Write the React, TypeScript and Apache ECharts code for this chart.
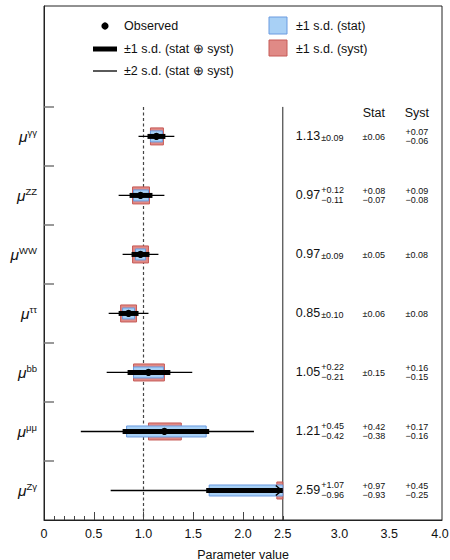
import React, { useEffect, useRef } from "react";
import * as echarts from "echarts";

// ---- data ----
const channels = ["γγ", "ZZ", "WW", "ττ", "bb", "μμ", "Zγ"];
const observed = [1.13, 0.97, 0.97, 0.85, 1.05, 1.21, 2.59];
const totUp = [0.09, 0.12, 0.09, 0.1, 0.22, 0.45, 1.07];
const totDn = [0.09, 0.11, 0.09, 0.1, 0.21, 0.42, 0.96];
const statUp = [0.06, 0.08, 0.05, 0.06, 0.15, 0.42, 0.97];
const statDn = [0.06, 0.07, 0.05, 0.06, 0.15, 0.38, 0.93];
const systUp = [0.07, 0.09, 0.08, 0.08, 0.16, 0.17, 0.45];
const systDn = [0.06, 0.08, 0.08, 0.08, 0.15, 0.16, 0.25];
const tot2Up = [0.18, 0.24, 0.18, 0.2, 0.44, 0.9, 2.14];
const tot2Dn = [0.18, 0.22, 0.18, 0.2, 0.42, 0.84, 1.92];

const xTickLabels = [0, 0.5, 1, 1.5, 2, 2.5, 3, 3.5, 4];
const xMajorTicks = [0.5, 1, 1.5, 2];
const xMinorTicks = [0.1, 0.2, 0.3, 0.4, 0.6, 0.7, 0.8, 0.9, 1.1, 1.2, 1.3, 1.4, 1.6, 1.7, 1.8, 1.9, 2.1, 2.2, 2.3, 2.4];
const yTicks = [1, 2, 3, 4, 5, 6, 7];
const columnHeaders = ["Stat", "Syst"];
const legendLeft = ["Observed", "±1 s.d. (stat ⊕ syst)", "±2 s.d. (stat ⊕ syst)"];
const legendRight = ["±1 s.d. (stat)", "±1 s.d. (syst)"];
const xName = "Parameter value";

// ---- layout / style ----
const FONT = "'Liberation Sans', Arial, Helvetica, sans-serif";
const DIVIDER = 2.4;
const ROWS = channels.length;
const BLUE = "#a8d0f5";
const BLUE_B = "#6a9be0";
const RED = "#e08a86";
const RED_B = "#c65a56";

function measure(t: string, font: string) {
  const c = document.createElement("canvas").getContext("2d");
  if (!c) return t.length * 7;
  c.font = font;
  return c.measureText(t).width;
}
const f2 = (v: number) => v.toFixed(2);
const errText = (up: number, dn: number) =>
  up === dn ? ["±" + f2(up)] : ["+" + f2(up), "−" + f2(dn)];

export default function App() {
  const ref = useRef<HTMLDivElement>(null);
  useEffect(() => {
    if (!ref.current) return;
    const chart = echarts.init(ref.current, null, { renderer: "svg" });

    const frameItem = (params: any, api: any) => {
      const top = api.coord([1, 7]);
      const bot = api.coord([1, 0]);
      const dTop = api.coord([DIVIDER, 7]);
      const dBot = api.coord([DIVIDER, 0]);
      const hy = api.coord([0, ROWS - 0.5])[1] - 23;
      const head = (t: string, x: number) => ({
        type: "text",
        style: { text: t, x, y: hy, align: "center", verticalAlign: "middle", fontSize: 12.5, fontFamily: FONT, fill: "#111" },
      });
      return {
        type: "group",
        children: [
          {
            type: "line",
            shape: { x1: top[0], y1: top[1], x2: bot[0], y2: bot[1] },
            style: { stroke: "#444", lineWidth: 1.2, lineDash: [3, 2.5] },
          },
          {
            type: "line",
            shape: { x1: dTop[0], y1: dTop[1], x2: dBot[0], y2: dBot[1] },
            style: { stroke: "#222", lineWidth: 1 },
          },
          head(columnHeaders[0], dTop[0] + 91),
          head(columnHeaders[1], dTop[0] + 134),
        ],
      };
    };

    const mainFont = "12.5px " + FONT;
    const rowItem = (params: any, api: any) => {
      const i = api.value(0);
      const yv = ROWS - 0.5 - i;
      const cl = (x: number) => Math.min(Math.max(x, 0), DIVIDER);
      const px = (x: number) => api.coord([cl(x), yv])[0];
      const y = api.coord([0, yv])[1];
      const x0 = api.coord([0, yv])[0];
      const xd = api.coord([DIVIDER, yv])[0];
      const c = observed[i];
      const kids: any[] = [];
      kids.push({
        type: "line",
        shape: { x1: px(c - tot2Dn[i]), y1: y, x2: px(c + tot2Up[i]), y2: y },
        style: { stroke: "#000", lineWidth: 1.3 },
      });
      const sx1 = px(c - systDn[i]);
      const sx2 = px(c + systUp[i]);
      if (sx2 - sx1 > 0.5)
        kids.push({
          type: "rect",
          shape: { x: sx1, y: y - 8.5, width: sx2 - sx1, height: 17 },
          style: { fill: RED, stroke: RED_B, lineWidth: 1 },
        });
      const bx1 = px(c - statDn[i]);
      const bx2 = px(c + statUp[i]);
      if (bx2 - bx1 > 0.5)
        kids.push({
          type: "rect",
          shape: { x: bx1, y: y - 5.5, width: bx2 - bx1, height: 11 },
          style: { fill: BLUE, stroke: BLUE_B, lineWidth: 1 },
        });
      const tx2 = px(c + totUp[i]);
      kids.push({
        type: "line",
        shape: { x1: px(c - totDn[i]), y1: y, x2: tx2, y2: y },
        style: { stroke: "#000", lineWidth: 5 },
      });
      if (c + totUp[i] > DIVIDER) {
        kids.push({
          type: "polyline",
          shape: { points: [[tx2 - 7, y - 5], [tx2 - 1, y], [tx2 - 7, y + 5]] },
          style: { stroke: "#000", lineWidth: 1.5, fill: null },
        });
      }
      if (c <= DIVIDER)
        kids.push({
          type: "circle",
          shape: { cx: px(c), cy: y, r: 3.6 },
          style: { fill: "#000" },
        });
      kids.push({
        type: "text",
        style: {
          text: "{mu|μ}{sup|" + channels[i] + "}",
          x: x0 - 7,
          y: y,
          align: "right",
          verticalAlign: "middle",
          rich: {
            mu: { fontSize: 15.5, fontStyle: "italic", fontFamily: FONT, fill: "#111", lineHeight: 17 },
            sup: { fontSize: 9.5, fontFamily: FONT, fill: "#111", verticalAlign: "top", lineHeight: 10 },
          },
        },
      });
      const vText = f2(c);
      const vx = xd + 13;
      kids.push({
        type: "text",
        style: { text: vText, x: vx, y: y, align: "left", verticalAlign: "middle", fontSize: 12.5, fontFamily: FONT, fill: "#111" },
      });
      const ex = vx + measure(vText, mainFont) + 1;
      const tot = errText(totUp[i], totDn[i]);
      const small = (t: string, x: number, yy: number, align: string) => ({
        type: "text",
        style: { text: t, x, y: yy, align, verticalAlign: "middle", fontSize: 9, fontFamily: FONT, fill: "#111" },
      });
      if (tot.length === 1) kids.push(small(tot[0], ex, y + 1.5, "left"));
      else {
        kids.push(small(tot[0], ex, y - 5.5, "left"));
        kids.push(small(tot[1], ex, y + 4.5, "left"));
      }
      const cols = [
        { x: xd + 91, t: errText(statUp[i], statDn[i]) },
        { x: xd + 134, t: errText(systUp[i], systDn[i]) },
      ];
      cols.forEach((col) => {
        if (col.t.length === 1) kids.push(small(col.t[0], col.x, y + 1, "center"));
        else {
          kids.push(small(col.t[0], col.x, y - 4.5, "center"));
          kids.push(small(col.t[1], col.x, y + 4.5, "center"));
        }
      });
      return { type: "group", children: kids };
    };

    const shiftRich = {
      s25: { padding: [0, 20, 0, 0], fontSize: 12.5, fontFamily: FONT, color: "#111" },
      s3: { padding: [0, 6, 0, 0], fontSize: 12.5, fontFamily: FONT, color: "#111" },
      s4: { padding: [0, 4, 0, 0], fontSize: 12.5, fontFamily: FONT, color: "#111" },
    };

    chart.setOption({
      animation: false,
      textStyle: { fontFamily: FONT },
      grid: {
        left: 44,
        right: 8,
        top: 6,
        bottom: 40,
        show: true,
        borderColor: "#222",
        borderWidth: 1,
        containLabel: false,
        outerBoundsMode: "none",
      },
      xAxis: [
        {
          type: "value",
          min: 0,
          max: 4,
          interval: 0.5,
          splitLine: { show: false },
          axisLine: { lineStyle: { color: "#222", width: 1 } },
          axisTick: { inside: true, length: 8, customValues: xMajorTicks, lineStyle: { color: "#444" } },
          axisLabel: {
            customValues: xTickLabels,
            fontSize: 12.5,
            color: "#111",
            margin: 7,
            fontFamily: FONT,
            showMinLabel: true,
            showMaxLabel: true,
            hideOverlap: false,
            formatter: (v: number) => {
              if (v === 0) return "0";
              if (v === 2.5) return "{s25|2.5}";
              if (v === 3 || v === 3.5) return "{s3|" + v.toFixed(1) + "}";
              if (v === 4) return "{s4|4.0}";
              return v.toFixed(1);
            },
            rich: shiftRich,
          },
          name: xName,
          nameLocation: "middle",
          nameGap: 28,
          nameTextStyle: { fontSize: 12.5, color: "#111", fontFamily: FONT },
        },
        {
          type: "value",
          min: 0,
          max: 4,
          gridIndex: 0,
          position: "bottom",
          splitLine: { show: false },
          axisLine: { show: false },
          axisLabel: { show: false },
          axisTick: { inside: true, length: 4, customValues: xMinorTicks, lineStyle: { color: "#444" } },
        },
      ],
      yAxis: {
        type: "value",
        min: 0,
        max: 8.71,
        interval: 1,
        splitLine: { show: false },
        axisLabel: { show: false },
        axisLine: { show: true, lineStyle: { color: "#222" } },
        axisTick: { inside: true, length: 10, customValues: yTicks, lineStyle: { color: "#777", width: 1.5 } },
      },
      graphic: [
        { type: "circle", shape: { cx: 105, cy: 26, r: 3.6 }, style: { fill: "#000" } },
        { type: "line", shape: { x1: 93, y1: 49, x2: 117, y2: 49 }, style: { stroke: "#000", lineWidth: 5 } },
        { type: "line", shape: { x1: 93, y1: 71, x2: 117, y2: 71 }, style: { stroke: "#000", lineWidth: 1.3 } },
        ...legendLeft.map((t, k) => ({
          type: "text",
          x: 124,
          y: 26 + k * 22.5,
          style: { text: t, fontSize: 12.5, fontFamily: FONT, fill: "#111", verticalAlign: "middle" },
        })),
        { type: "rect", shape: { x: 269, y: 17, width: 18, height: 17 }, style: { fill: BLUE, stroke: BLUE_B, lineWidth: 1 } },
        { type: "rect", shape: { x: 269, y: 40, width: 18, height: 16 }, style: { fill: RED, stroke: RED_B, lineWidth: 1 } },
        ...legendRight.map((t, k) => ({
          type: "text",
          x: 296,
          y: 26 + k * 23,
          style: { text: t, fontSize: 12.5, fontFamily: FONT, fill: "#111", verticalAlign: "middle" },
        })),
      ],
      series: [
        {
          type: "custom",
          xAxisIndex: 0,
          yAxisIndex: 0,
          z: 1,
          data: [[0]],
          renderItem: frameItem,
          silent: true,
        },
        {
          type: "custom",
          xAxisIndex: 0,
          yAxisIndex: 0,
          z: 2,
          data: channels.map((_, i) => [i]),
          renderItem: rowItem,
          silent: true,
        },
      ],
    });
    return () => chart.dispose();
  }, []);
  return <div ref={ref} style={{ width: 450, height: 560, position: "absolute", left: 0, top: 0 }} />;
}
